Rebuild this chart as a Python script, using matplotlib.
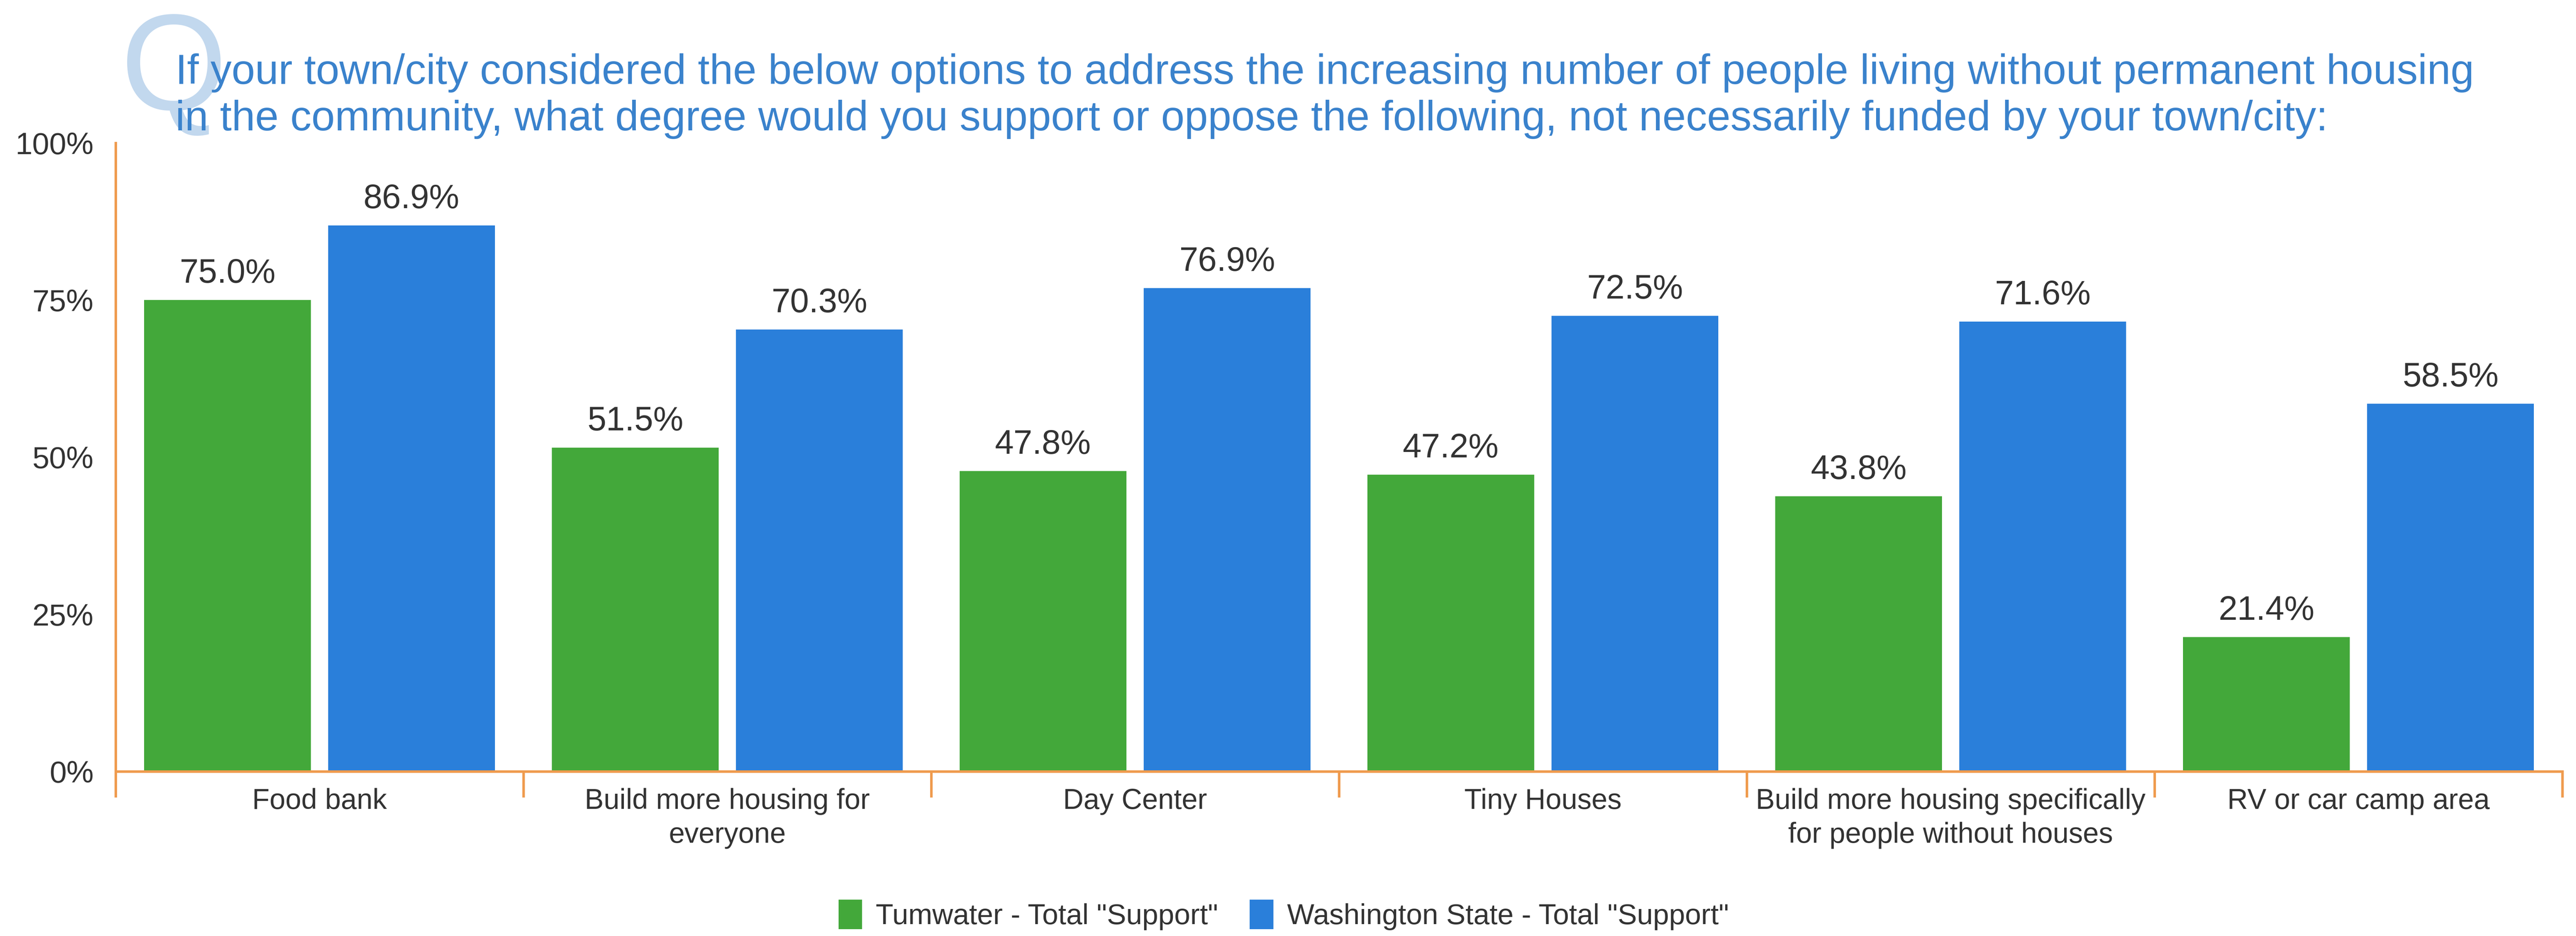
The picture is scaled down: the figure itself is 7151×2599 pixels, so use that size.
import numpy as np
import matplotlib.pyplot as plt
from matplotlib.ticker import FixedLocator

plt.rcParams['font.family'] = ['Liberation Sans', 'DejaVu Sans']

# survey answers, share of respondents saying "support" (percent)
options = ['Food bank', 'Build more housing for\neveryone', 'Day Center',
           'Tiny Houses', 'Build more housing specifically\nfor people without houses',
           'RV or car camp area']
tumwater = [75.0, 51.5, 47.8, 47.2, 43.8, 21.4]
washington = [86.9, 70.3, 76.9, 72.5, 71.6, 58.5]
series_names = ['Tumwater - Total "Support"', 'Washington State - Total "Support"']
yticks = [0, 25, 50, 75, 100]

green = '#43a83a'
blue = '#2a7fda'
orange = '#ef9b4e'
text_col = '#333333'

DPI = 100
fig = plt.figure(figsize=(71.51, 25.99), dpi=DPI)
px = 72 / DPI   # points per output pixel

ax = fig.add_axes([0.04489, 0.17584, 0.99469 - 0.04489, 0.84725 - 0.17584])

x = np.arange(len(options))
w = 0.409
off = 0.2255
b1 = ax.bar(x - off, tumwater, w, color=green, label=series_names[0], zorder=2)
b2 = ax.bar(x + off, washington, w, color=blue, label=series_names[1], zorder=2)

for bars, vals in ((b1, tumwater), (b2, washington)):
    for r, v in zip(bars, vals):
        ax.annotate(f'{v:.1f}%', (r.get_x() + r.get_width() / 2, v),
                    xytext=(0, 48 * px), textcoords='offset points',
                    ha='center', va='baseline', fontsize=94 * px, color=text_col)

ax.set_xlim(-0.5, len(options) - 0.5)
ax.set_ylim(0, 100)

# category names centred, boundary ticks between groups
ax.set_xticks(x)
ax.set_xticklabels(options, fontsize=79 * px, color=text_col, linespacing=1.33)
ax.xaxis.set_minor_locator(FixedLocator(np.arange(-0.5, len(options), 1.0)))
ax.tick_params(axis='x', which='major', length=0, pad=46 * px)
ax.tick_params(axis='x', which='minor', length=72 * px, width=7 * px, color=orange)

ax.set_yticks(yticks)
ax.set_yticklabels([f'{t}%' for t in yticks], fontsize=85 * px, color=text_col)
ax.tick_params(axis='y', length=0, pad=61 * px)

for s in ('top', 'right'):
    ax.spines[s].set_visible(False)
for s in ('left', 'bottom'):
    ax.spines[s].set_color(orange)
    ax.spines[s].set_linewidth(7 * px)
ax.spines['bottom'].set_zorder(3)

# big faded "Q" behind the question text
fig.text(335 / 7151, 1 - 305 / 2599, 'Q', fontsize=380 * px, color='#c2d8ee',
         ha='left', va='baseline', zorder=0)
title_lines = ['If your town/city considered the below options to address the increasing '
               'number of people living without permanent housing',
               'in the community, what degree would you support or oppose the following, '
               'not necessarily funded by your town/city:']
for i, line in enumerate(title_lines):
    fig.text(487 / 7151, 1 - (233 + 129 * i) / 2599, line, fontsize=117 * px,
             color='#3a82cc', ha='left', va='baseline', zorder=1)

fig.legend(handles=[b1, b2], loc='upper center', bbox_to_anchor=(0.4983, 1 - 2498 / 2599),
           ncol=2, frameon=False, fontsize=80 * px, handlelength=0.82, handleheight=1.2,
           handletextpad=0.47, columnspacing=1.1, borderpad=0, borderaxespad=0,
           labelcolor=text_col)

fig.savefig('out.png', dpi=DPI, facecolor='white')
